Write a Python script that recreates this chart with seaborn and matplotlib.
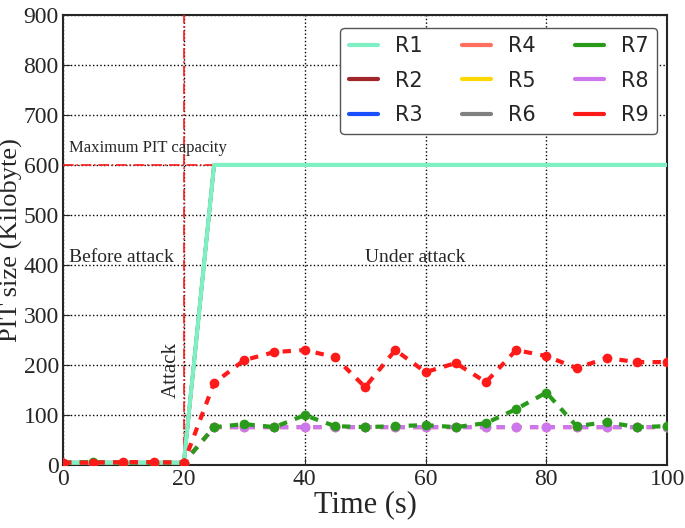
import numpy as np
import pandas as pd
import matplotlib.pyplot as plt
import seaborn as sns

# Datos (PIT size en Kilobyte, cada 5 s)
tiempo = [0, 5, 10, 15, 20, 25, 30, 35, 40, 45, 50, 55, 60, 65, 70, 75, 80, 85, 90, 95, 100]
r_llenos = [5, 5, 5, 5, 5, 600, 600, 600, 600, 600, 600, 600, 600, 600, 600, 600, 600, 600, 600, 600, 600]
r_bajos = [5, 5, 5, 5, 5, 76, 76, 76, 76, 76, 76, 76, 76, 76, 76, 76, 76, 76, 76, 76, 76]
r7 = [5, 6, 5, 5, 5, 76, 82, 76, 100, 78, 76, 78, 80, 76, 84, 112, 145, 78, 86, 76, 78]
r9 = [5, 5, 6, 6, 5, 164, 210, 226, 230, 216, 156, 230, 186, 204, 166, 230, 218, 194, 214, 206, 206]

nombres = ['R1', 'R2', 'R3', 'R4', 'R5', 'R6', 'R7', 'R8', 'R9']
colores = ['#7ff0c4', '#a0262a', '#1a4fff', '#ff6f5f', '#ffd700', '#7f8080', '#2a9a1a', '#cc77ee', '#ff1a1a']
valores = [r_llenos, r_llenos, r_llenos, r_bajos, r_llenos, r_llenos, r7, r_bajos, r9]

sns.set_style('ticks')
plt.rcParams['font.family'] = ['Liberation Serif', 'DejaVu Serif']

fig = plt.figure(figsize=(6.85, 5.28), dpi=100)
ax = fig.add_axes([0.092, 0.119, 0.882, 0.853])

# Orden de dibujo: R1 encima de los que llegan a 600
orden = [1, 2, 4, 5, 3, 7, 0, 6, 8]
for i in orden:
    df = pd.DataFrame({'t': tiempo, 'v': valores[i]})
    if valores[i] is r_llenos or i == 0:
        # los que llegan al maximo quedan tapados por R1
        sns.lineplot(data=df, x='t', y='v', ax=ax, color=colores[i], lw=3 if i == 0 else 2.5,
                     zorder=5 if i == 0 else 4)
    else:
        sns.lineplot(data=df, x='t', y='v', ax=ax, color=colores[i], lw=3,
                     linestyle=(0, (2, 2)), marker='o', markersize=7,
                     markeredgewidth=0, zorder=4 + (i >= 6))

# Lineas de referencia
ax.axvline(20, color='#ff1a1a', ls='-.', lw=1.2, zorder=3)
ax.axhline(600, color='#ff1a1a', ls='-.', lw=1.2, zorder=3)

ax.set_xlim(0, 100)
ax.set_ylim(0, 900)
ax.set_xticks(range(0, 101, 20))
ax.set_yticks(range(0, 901, 100))
ax.grid(True, color='black', ls=':', lw=1)
ax.tick_params(labelsize=17, direction='in', length=5, pad=3)
for s in ax.spines.values():
    s.set_linewidth(1.5)
    s.set_visible(True)

ax.set_xlabel('Time (s)', fontsize=22, labelpad=0)
ax.set_ylabel('PIT size (Kilobyte)', fontsize=19)
ax.yaxis.set_label_coords(-0.066, 0.5)

ax.text(1, 625, 'Maximum PIT capacity', fontsize=12)
ax.text(1, 405, 'Before attack', fontsize=14)
ax.text(50, 405, 'Under attack', fontsize=14)
ax.text(16.3, 145, 'Attack', fontsize=15, rotation=90)

# Leyenda con fuente sans
handles = [plt.Line2D([], [], color=c, lw=3) for c in colores]
ax.legend(handles, nombres, ncol=3, loc='upper right',
          prop={'family': 'DejaVu Sans', 'size': 15}, frameon=True,
          fancybox=True, edgecolor='#555555', framealpha=1,
          handlelength=1.4, handletextpad=0.8, columnspacing=1.9,
          labelspacing=0.7, borderaxespad=0, bbox_to_anchor=(0.983, 0.971))

plt.savefig('out.png', dpi=100)
